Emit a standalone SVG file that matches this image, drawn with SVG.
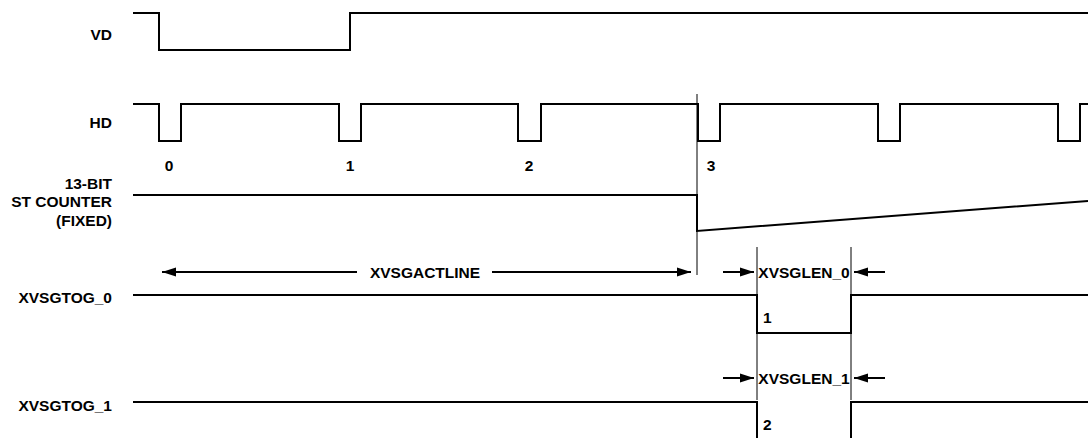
<svg xmlns="http://www.w3.org/2000/svg" width="1088" height="438" viewBox="0 0 1088 438">
<style>
.sig{fill:none;stroke:#000;stroke-width:2;stroke-linejoin:miter}
.thin{fill:none;stroke:#000;stroke-width:1}
.dim{fill:none;stroke:#000;stroke-width:2}
.lbl{font-family:"Liberation Sans",Arial,sans-serif;font-weight:bold;font-size:15.5px;fill:#000}
.r{text-anchor:end}
.m{text-anchor:middle}
</style>
<defs>
<marker id="ah" markerWidth="14" markerHeight="10" refX="14" refY="5" orient="auto" markerUnits="userSpaceOnUse">
<path d="M0,0.5 L14,5 L0,9.5 Z" fill="#000"/>
</marker>
</defs>
<rect width="1088" height="438" fill="#fff"/>
<g id="labels">
<text class="lbl r" x="112" y="40">VD</text>
<text class="lbl r" x="112" y="128">HD</text>
<text class="lbl r" x="112" y="189">13-BIT</text>
<text class="lbl r" x="112" y="207">ST COUNTER</text>
<text class="lbl r" x="112" y="226">(FIXED)</text>
<text class="lbl r" x="112" y="303">XVSGTOG_0</text>
<text class="lbl r" x="112" y="411">XVSGTOG_1</text>
</g>
<g id="vd">
<polyline class="sig" points="133,13 159,13 159,50 350,50 350,13 1088,13"/>
</g>
<g id="hd">
<polyline class="sig" points="133,104 159,104 159,141 181,141 181,104 339,104 339,141 361,141 361,104 518,104 518,141 541,141 541,104 698,104 698,141 720,141 720,104 878,104 878,141 900,141 900,104 1058,104 1058,141 1080,141 1080,104 1088,104"/>
<text class="lbl m" x="169" y="171">0</text>
<text class="lbl m" x="350" y="171">1</text>
<text class="lbl m" x="529" y="171">2</text>
<text class="lbl m" x="711" y="171">3</text>
</g>
<g id="counter">
<polyline class="sig" points="133,195 697,195 697,231 1088,201"/>
</g>
<g id="xvsgtog0">
<polyline class="sig" points="133,295 757,295 757,333 851,333 851,295 1088,295"/>
<text class="lbl" x="763" y="323">1</text>
</g>
<g id="xvsgtog1">
<polyline class="sig" points="133,402 757,402 757,440"/>
<polyline class="sig" points="851,440 851,402 1088,402"/>
<text class="lbl" x="763" y="430">2</text>
</g>
<g id="connectors">
<line class="thin" x1="697" y1="94" x2="697" y2="275"/>
<line class="thin" x1="757" y1="247" x2="757" y2="400"/>
<line class="thin" x1="851" y1="247" x2="851" y2="400"/>
<line class="dim" x1="357" y1="272" x2="162" y2="272" marker-end="url(#ah)"/>
<line class="dim" x1="492" y1="272" x2="691" y2="272" marker-end="url(#ah)"/>
<line class="dim" x1="723" y1="272" x2="754" y2="272" marker-end="url(#ah)"/>
<line class="dim" x1="885" y1="272" x2="854" y2="272" marker-end="url(#ah)"/>
<line class="dim" x1="723" y1="378" x2="754" y2="378" marker-end="url(#ah)"/>
<line class="dim" x1="885" y1="378" x2="854" y2="378" marker-end="url(#ah)"/>
</g>
<g id="dim-labels">
<text class="lbl m" x="425" y="278">XVSGACTLINE</text>
<text class="lbl m" x="804" y="278">XVSGLEN_0</text>
<text class="lbl m" x="804" y="384">XVSGLEN_1</text>
</g>
</svg>
